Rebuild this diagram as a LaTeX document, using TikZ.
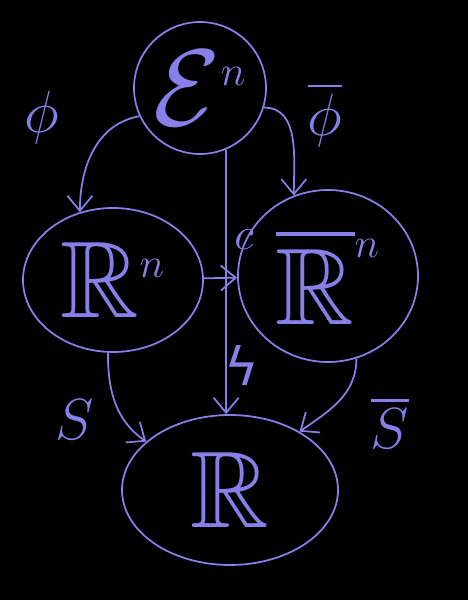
\RequirePackage{fix-cm}
\documentclass[tikz,border=0pt]{standalone}
\usepackage{fontspec}
\usepackage{amssymb}
\newfontfamily\dejavu{DejaVu Sans}
\usetikzlibrary{arrows.meta,shapes.geometric}

\definecolor{pen}{RGB}{136,128,232}
\newcommand\bigsize{\fontsize{62}{62}\selectfont}
\newcommand\supn[1]{\mbox{\fontsize{24}{24}\selectfont$#1$}}

\tikzset{
  blob/.style={draw=pen, line width=1pt, inner sep=0pt, text=pen},
  map/.style={draw=pen, line width=1pt, -{Straight Barb[length=3mm,width=5mm]}},
  lbl/.style={text=pen, inner sep=0pt},
}

\begin{document}
\begin{tikzpicture}
    \fill[black] (0,0) rectangle (9.36,12);
    \useasboundingbox (0,0) rectangle (9.36,12);

    % the four spaces
    \node[blob, circle, minimum size=2.64cm] (E) at (4.0,10.24) {\bigsize $\mathcal{E}^{\supn{n}}$};
    \node[blob, ellipse, minimum width=3.6cm, minimum height=2.88cm] (Rn) at (2.26,6.4) {\bigsize $\mathbb{R}^{\supn{n}}$};
    \node[blob, ellipse, minimum width=3.6cm, minimum height=3.44cm] (Rb) at (6.56,6.48) {\bigsize $\overline{\mathbb{R}}^{\supn{n}}$};
    \node[blob, ellipse, minimum width=4.32cm, minimum height=3cm] (R) at (4.6,2.2) {\bigsize $\mathbb{R}$};

    % maps
    \draw[map] (E.205) to[out=190,in=90] (Rn.116);
    \draw[map] (E.-17) to[out=0,in=90] (Rb.113);
    \draw[map] (Rn) -- (Rb);
    \draw[map] (E.-67) -- (E.-67 |- R.north);
    \draw[map] (Rn.-94) to[out=-90,in=145] (R.150);
    \draw[map] (Rb.-71) to[out=-90,in=35] (R.40);

    % labels
    \node[lbl] (phi) at (0.84,9.64) {\fontsize{34}{34}\selectfont $\phi$};
    \node[lbl] (phib) at (6.5,9.7) {\fontsize{34}{34}\selectfont $\overline{\phi}$};
    \node[lbl] (c) at (4.88,7.2) {\fontsize{26}{26}\selectfont $c$};
    \node[lbl] (z) at (4.84,4.7) {\fontsize{30}{30}\selectfont\dejavu ϟ};
    \node[lbl] (s) at (1.5,3.6) {\fontsize{33}{33}\selectfont $S$};
    \node[lbl] (sb) at (7.8,3.55) {\fontsize{33}{33}\selectfont $\overline{S}$};
\end{tikzpicture}
\end{document}
